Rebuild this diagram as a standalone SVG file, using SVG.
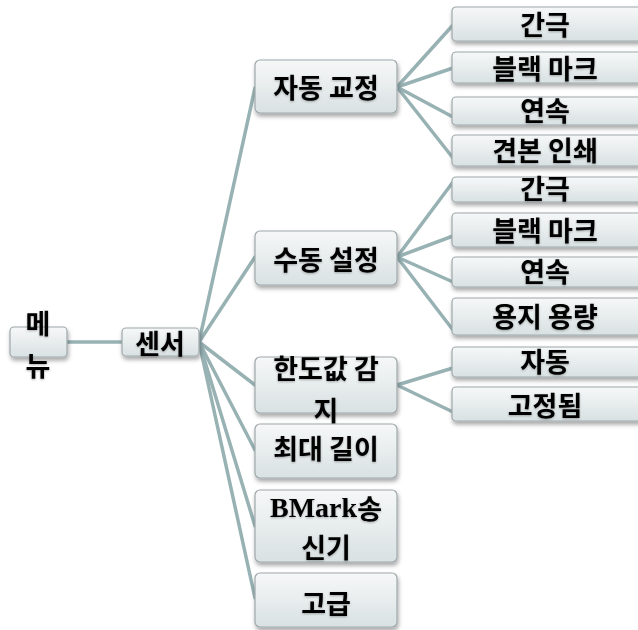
<svg xmlns="http://www.w3.org/2000/svg" width="638" height="630" viewBox="0 0 638 630">
<defs>
<linearGradient id="g" x1="0" y1="0" x2="0" y2="1">
<stop offset="0" stop-color="#f6f8f8"/>
<stop offset="1" stop-color="#d9e1e2"/>
</linearGradient>
<filter id="sh" x="-10%" y="-20%" width="125%" height="160%">
<feDropShadow dx="1" dy="3" stdDeviation="2" flood-color="#000" flood-opacity="0.35"/>
</filter>
<filter id="ts" x="-10%" y="-20%" width="120%" height="150%">
<feDropShadow dx="0" dy="1" stdDeviation="1" flood-color="#000" flood-opacity="0.3"/>
</filter>
</defs>
<style>
.b{fill:url(#g);stroke:#9ea8ab;stroke-width:1.2;filter:url(#sh)}
.t{font-family:"Noto Sans CJK KR","Noto Sans",sans-serif;font-weight:bold;font-size:27px;fill:#000;text-anchor:middle;dominant-baseline:central;filter:url(#ts)}
.s{font-family:"Liberation Serif",serif;font-size:28px}
.c{stroke:#98b2b4;stroke-width:3.5;fill:none;stroke-linecap:round}
</style>
<rect width="638" height="630" fill="#fff"/>
<g id="connectors">
<line class="c" x1="67" y1="342" x2="122" y2="342"/>
<line class="c" x1="199" y1="342" x2="255" y2="88"/>
<line class="c" x1="199" y1="342" x2="255" y2="257"/>
<line class="c" x1="199" y1="342" x2="255" y2="385"/>
<line class="c" x1="199" y1="342" x2="255" y2="450"/>
<line class="c" x1="199" y1="342" x2="255" y2="526"/>
<line class="c" x1="199" y1="342" x2="255" y2="598"/>
<line class="c" x1="397" y1="87" x2="453" y2="25"/>
<line class="c" x1="397" y1="87" x2="453" y2="68"/>
<line class="c" x1="397" y1="87" x2="453" y2="117"/>
<line class="c" x1="397" y1="87" x2="453" y2="158"/>
<line class="c" x1="397" y1="257" x2="453" y2="182"/>
<line class="c" x1="397" y1="257" x2="453" y2="236"/>
<line class="c" x1="397" y1="257" x2="453" y2="282"/>
<line class="c" x1="397" y1="257" x2="453" y2="330"/>
<line class="c" x1="397" y1="385" x2="453" y2="368"/>
<line class="c" x1="397" y1="385" x2="453" y2="412"/>
</g>
<g id="menu"><rect class="b" x="10" y="327" width="57" height="30" rx="4"/><text class="t" x="38" y="322">메</text><text class="t" x="38" y="364">뉴</text></g>
<g id="sensor"><rect class="b" x="122" y="328" width="77" height="28" rx="4"/><text class="t" x="160" y="342">센서</text></g>
<g id="auto-cal"><rect class="b" x="255" y="60" width="142" height="53" rx="5"/><text class="t" x="326" y="86">자동 교정</text></g>
<g id="manual"><rect class="b" x="255" y="231" width="142" height="54" rx="5"/><text class="t" x="326" y="258">수동 설정</text></g>
<g id="threshold"><rect class="b" x="255" y="357" width="142" height="56" rx="5"/><text class="t" x="326" y="367">한도값 감</text><text class="t" x="326" y="409">지</text></g>
<g id="maxlen"><rect class="b" x="255" y="424" width="142" height="54" rx="5"/><text class="t" x="326" y="447">최대 길이</text></g>
<g id="bmark"><rect class="b" x="255" y="490" width="142" height="72" rx="5"/><text class="t" x="326" y="507"><tspan class="s">BMark</tspan>송</text><text class="t" x="326" y="546">신기</text></g>
<g id="advanced"><rect class="b" x="255" y="573" width="142" height="54" rx="5"/><text class="t" x="326" y="602">고급</text></g>
<g id="a-gap"><rect class="b" x="452" y="7" width="195" height="34" rx="4"/><text class="t" x="545" y="23">간극</text></g>
<g id="a-black"><rect class="b" x="452" y="52" width="195" height="31" rx="4"/><text class="t" x="545" y="67">블랙 마크</text></g>
<g id="a-cont"><rect class="b" x="452" y="97" width="195" height="28" rx="4"/><text class="t" x="545" y="109">연속</text></g>
<g id="a-sample"><rect class="b" x="452" y="135" width="195" height="31" rx="4"/><text class="t" x="545" y="149">견본 인쇄</text></g>
<g id="m-gap"><rect class="b" x="452" y="177" width="195" height="25" rx="4"/><text class="t" x="545" y="187">간극</text></g>
<g id="m-black"><rect class="b" x="452" y="213" width="195" height="34" rx="4"/><text class="t" x="545" y="229">블랙 마크</text></g>
<g id="m-cont"><rect class="b" x="452" y="257" width="195" height="30" rx="4"/><text class="t" x="545" y="270">연속</text></g>
<g id="m-cap"><rect class="b" x="452" y="298" width="195" height="37" rx="4"/><text class="t" x="545" y="315">용지 용량</text></g>
<g id="t-auto"><rect class="b" x="452" y="347" width="195" height="30" rx="4"/><text class="t" x="545" y="360">자동</text></g>
<g id="t-fixed"><rect class="b" x="452" y="387" width="195" height="34" rx="4"/><text class="t" x="545" y="404">고정됨</text></g>
</svg>
